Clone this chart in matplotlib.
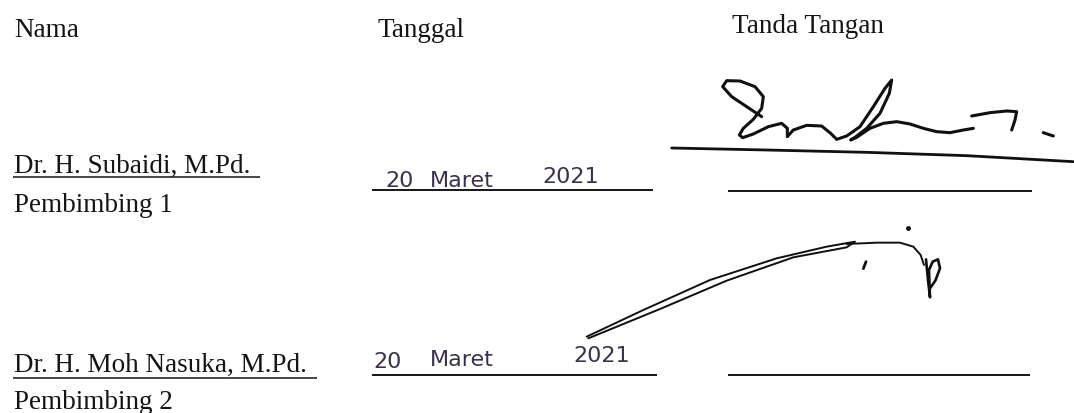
import matplotlib
matplotlib.use("Agg")
import matplotlib.pyplot as plt

# ---- content ----
headers = ["Nama", "Tanggal", "Tanda Tangan"]
names = ["Dr. H. Subaidi, M.Pd.", "Dr. H. Moh Nasuka, M.Pd."]
roles = ["Pembimbing 1", "Pembimbing 2"]
date_parts = ["20", "Maret", "2021"]

# signature strokes (sketch coordinates, 3x zoom units)
sig1_main_x = [185, 140, 95, 68, 80, 120, 165, 190, 185, 160, 130, 118, 128, 160, 205, 245,
               262, 262, 280, 320, 365, 392, 410, 440, 480, 520, 555, 575, 568, 540, 500,
               465, 452, 470, 510, 550, 590, 630, 670, 710, 750, 790, 820]
sig1_main_y = [170, 140, 110, 80, 62, 63, 80, 110, 145, 178, 205, 225, 233, 222, 200, 190,
               205, 230, 210, 196, 198, 220, 238, 228, 200, 140, 85, 60, 100, 160, 205,
               232, 240, 232, 205, 190, 185, 192, 205, 215, 218, 210, 205]
sig1_hook_x = [815, 870, 920, 950, 945, 935]
sig1_hook_y = [168, 158, 153, 155, 180, 210]
sig1_dot_x = [1030, 1060]
sig1_dot_y = [218, 228]
sig1_under_x = [-85, 200, 500, 800, 1120]
sig1_under_y = [264, 270, 277, 287, 305]

sig2_loop_x = [80, 250, 450, 650, 800, 885, 860, 700, 500, 300, 85]
sig2_loop_y = [350, 270, 180, 115, 80, 65, 82, 112, 182, 267, 355]
sig2_tail_x = [860, 950, 1020, 1060, 1082, 1092]
sig2_tail_y = [72, 68, 68, 80, 105, 135]
sig2_p_x = [1098, 1104, 1110, 1107, 1118, 1134, 1140, 1126, 1108]
sig2_p_y = [118, 180, 232, 150, 125, 118, 145, 182, 208]
sig2_tick_x = [918, 910]
sig2_tick_y = [125, 146]
sig2_dot_x = [1045]
sig2_dot_y = [25]

W, H = 1074, 413
fig = plt.figure(figsize=(W / 100, H / 100), dpi=100)
ax = fig.add_axes([0, 0, 1, 1])
ax.set_xlim(0, W)
ax.set_ylim(H, 0)
ax.axis("off")
fig.patch.set_facecolor("white")

serif = dict(family="Liberation Serif", fontsize=19.5, color="#151515", va="baseline", ha="left")
hand = dict(family="DejaVu Sans", fontsize=16, color="#3a3248", va="baseline", ha="left",
            fontweight="normal")

# headers
ax.text(14, 37, headers[0], **serif)
ax.text(377, 37, headers[1], **serif)
ax.text(732, 33, headers[2], **serif)

# rows
name_y = [173, 372]
name_ul = [(13, 260, 177), (13, 317, 378)]
role_y = [212, 409]
for i in range(2):
    ax.text(14, name_y[i], names[i], **serif)
    x0, x1, yy = name_ul[i]
    ax.plot([x0, x1], [yy, yy], color="#151515", lw=1.1, solid_capstyle="butt")
    ax.text(14, role_y[i], roles[i], **serif)

# dates
date_x = [[385, 430, 542], [373, 430, 573]]
date_y = [[187, 187, 183], [368, 366, 362]]
for r in range(2):
    for k, part in enumerate(date_parts):
        ax.text(date_x[r][k], date_y[r][k], part, **hand)

# lines for date and signature
for (x0, x1, yy) in [(372, 653, 190), (728, 1032, 191), (372, 657, 375), (728, 1030, 375)]:
    ax.plot([x0, x1], [yy, yy], color="#151515", lw=1.4, solid_capstyle="butt")


def conv(xs, ys, ox, oy):
    return [ox + x / 3 for x in xs], [oy + y / 3 for y in ys]


ink = "#101010"
for xs, ys, lw in [(sig1_main_x, sig1_main_y, 2.2), (sig1_hook_x, sig1_hook_y, 2.2),
                   (sig1_dot_x, sig1_dot_y, 2.2), (sig1_under_x, sig1_under_y, 2.0)]:
    px, py = conv(xs, ys, 700, 60)
    ax.plot(px, py, color=ink, lw=lw, solid_capstyle="round", solid_joinstyle="round")

for xs, ys, lw in [(sig2_loop_x, sig2_loop_y, 1.4), (sig2_tail_x, sig2_tail_y, 1.4),
                   (sig2_p_x, sig2_p_y, 1.9), (sig2_tick_x, sig2_tick_y, 2.0)]:
    px, py = conv(xs, ys, 560, 220)
    ax.plot(px, py, color=ink, lw=lw, solid_capstyle="round", solid_joinstyle="round")
px, py = conv(sig2_dot_x, sig2_dot_y, 560, 220)
ax.plot(px, py, "o", color=ink, ms=2.5)

fig.savefig("out.png", dpi=100, facecolor="white")
